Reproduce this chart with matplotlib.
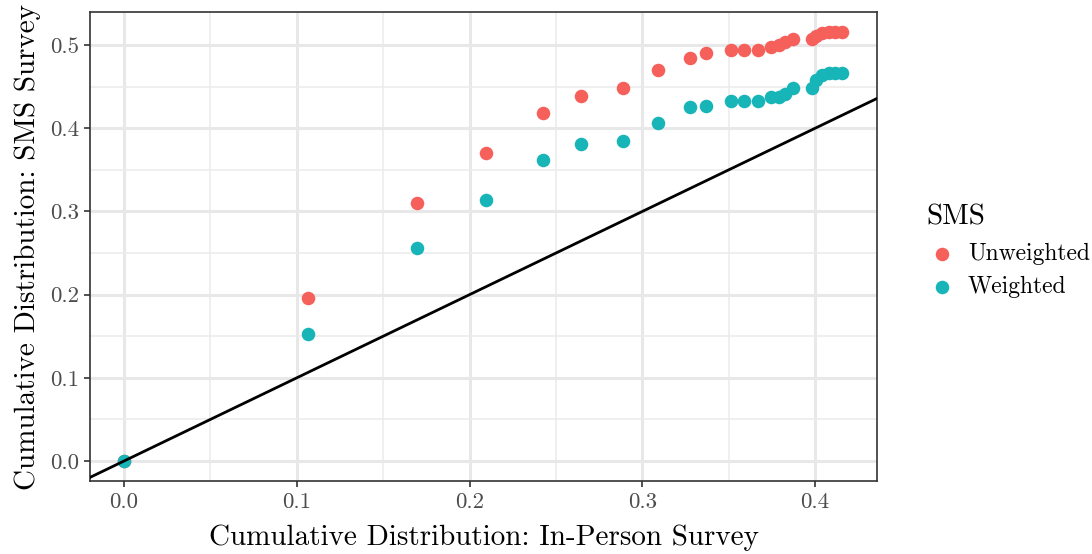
import matplotlib
matplotlib.use("Agg")
import matplotlib.pyplot as plt
from matplotlib.ticker import MultipleLocator

plt.rcParams["font.family"] = "serif"
plt.rcParams["font.serif"] = ["cmr10"]
plt.rcParams["mathtext.fontset"] = "cm"
plt.rcParams["axes.formatter.use_mathtext"] = True

# Datos
in_person = [0.0, 0.1067, 0.1697, 0.2095, 0.2423, 0.2645, 0.289, 0.3088,
             0.3275, 0.3368, 0.3513, 0.3588, 0.3669, 0.3744, 0.3790, 0.3825,
             0.3872, 0.3981, 0.4005, 0.4039, 0.4080, 0.4115, 0.4155]
sms_unweighted = [0.0, 0.196, 0.3105, 0.370, 0.4179, 0.439, 0.448, 0.4695,
                  0.485, 0.491, 0.494, 0.494, 0.494, 0.4982, 0.500, 0.5036,
                  0.5078, 0.5078, 0.5114, 0.5144, 0.5156, 0.5156, 0.5156]
sms_weighted = [0.0, 0.1526, 0.2556, 0.3137, 0.3618, 0.3806, 0.3846, 0.4066,
                0.4255, 0.427, 0.4327, 0.4327, 0.4327, 0.4371, 0.4378, 0.441,
                0.448, 0.448, 0.4579, 0.4639, 0.466, 0.466, 0.466]

fig = plt.figure(figsize=(10.92, 5.54), dpi=100)
ax = fig.add_axes([0.0824, 0.1318, 0.7207, 0.8465])

ax.scatter(in_person, sms_unweighted, s=95, color="#F5605B", label="Unweighted",
           zorder=3, linewidths=0)
ax.scatter(in_person, sms_weighted, s=95, color="#17B4B8", label="Weighted",
           zorder=3, linewidths=0)
ax.axline((0, 0), slope=1, color="black", lw=2, zorder=4)

ax.set_xlim(-0.0197, 0.4358)
ax.set_ylim(-0.024, 0.5397)
ax.xaxis.set_major_locator(MultipleLocator(0.1))
ax.xaxis.set_minor_locator(MultipleLocator(0.05))
ax.yaxis.set_major_locator(MultipleLocator(0.1))
ax.yaxis.set_minor_locator(MultipleLocator(0.05))
ax.xaxis.set_major_formatter(lambda v, p: f"{v:.1f}")
ax.yaxis.set_major_formatter(lambda v, p: f"{v:.1f}")

ax.grid(which="major", color="#E8E8E8", lw=2.2, zorder=0)
ax.grid(which="minor", color="#EBEBEB", lw=1.1, zorder=0)
for s in ax.spines.values():
    s.set_color("#333333")
    s.set_linewidth(1.2)
ax.tick_params(which="major", length=4, width=1.2, color="#333333",
               labelcolor="#4D4D4D", labelsize=16.5, pad=4)
ax.tick_params(which="minor", length=0)

ax.set_xlabel("Cumulative Distribution: In-Person Survey", fontsize=21, labelpad=9)
ax.set_ylabel("Cumulative Distribution: SMS Survey", fontsize=21, labelpad=6)

leg = ax.legend(title="SMS", loc="center left", bbox_to_anchor=(1.036, 0.49),
                frameon=False, fontsize=17, title_fontsize=21, handletextpad=0.45,
                handlelength=1.3, labelspacing=0.45, markerscale=1.0,
                alignment="left")
leg._legend_box.sep = 9

plt.savefig("out.png", dpi=100)
